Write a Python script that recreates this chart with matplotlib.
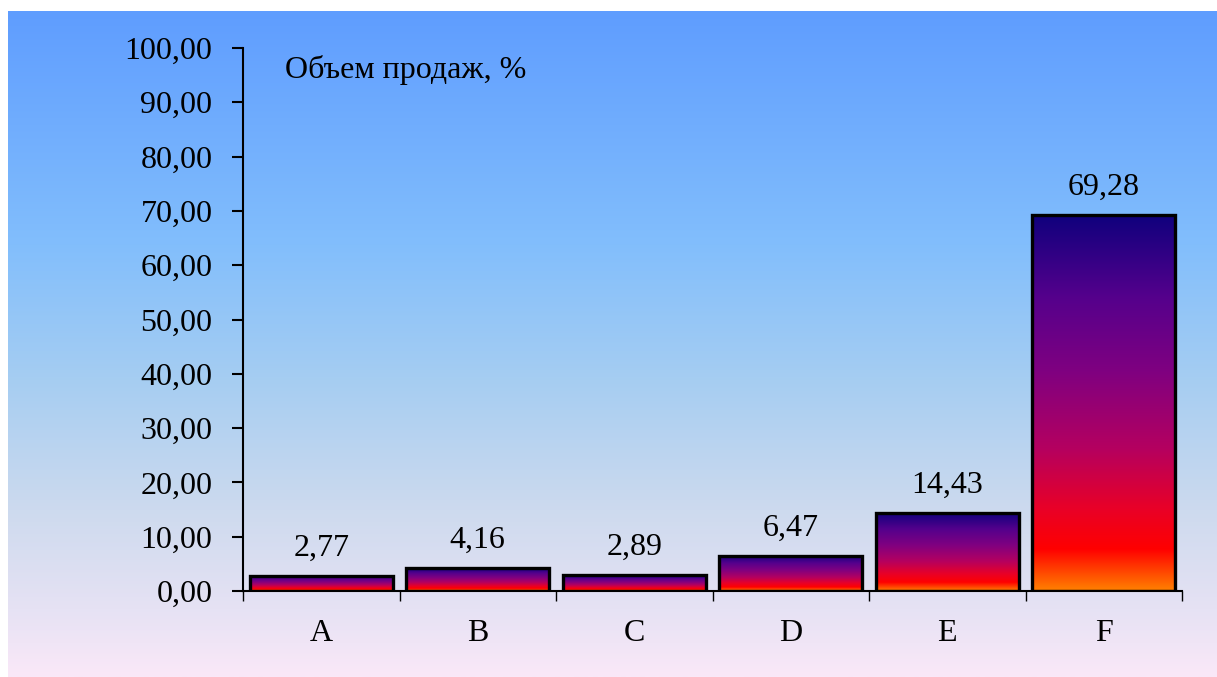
import numpy as np
import matplotlib
matplotlib.use("Agg")
from matplotlib import pyplot as plt
from matplotlib.colors import LinearSegmentedColormap
from matplotlib.patches import Rectangle

plt.rcParams['font.family'] = ['Liberation Serif', 'DejaVu Serif']

# Sales share by product group
categories = ["A", "B", "C", "D", "E", "F"]
sales = [2.77, 4.16, 2.89, 6.47, 14.43, 69.28]
y_ticks = [0, 10, 20, 30, 40, 50, 60, 70, 80, 90, 100]
title = "Объем продаж, %"

W, H = 1217, 677
fig = plt.figure(figsize=(W / 100, H / 100), dpi=100)
fig.patch.set_facecolor("white")

# panel background: blue at the top fading to pale pink
bg_cmap = LinearSegmentedColormap.from_list("bg", [
    (0.00, (95 / 255, 157 / 255, 255 / 255)),
    (0.35, (130 / 255, 190 / 255, 252 / 255)),
    (0.55, (165 / 255, 205 / 255, 242 / 255)),
    (0.75, (205 / 255, 218 / 255, 238 / 255)),
    (0.90, (230 / 255, 226 / 255, 244 / 255)),
    (1.00, (250 / 255, 232 / 255, 248 / 255)),
])
bg = fig.add_axes([8 / W, 0, 1 - 8 / W, 1 - 11 / H], zorder=0)
bg.imshow(np.linspace(0, 1, 256).reshape(-1, 1), cmap=bg_cmap,
          aspect="auto", extent=(0, 1, 0, 1))
bg.axis("off")

ax = fig.add_axes([243 / W, 1 - 591 / H, (1182 - 243) / W, (591 - 48) / H], zorder=1)
ax.patch.set_alpha(0)

# bar fill: orange at the base, through red and purple to navy at the top
bar_cmap = LinearSegmentedColormap.from_list("bars", [
    (0.00, (255 / 255, 128 / 255, 0)),
    (0.11, (255 / 255, 0, 0)),
    (0.22, (232 / 255, 0, 40 / 255)),
    (0.38, (180 / 255, 0, 96 / 255)),
    (0.58, (128 / 255, 0, 128 / 255)),
    (0.78, (85 / 255, 0, 140 / 255)),
    (1.00, (15 / 255, 0, 125 / 255)),
])
grad = np.linspace(1, 0, 256).reshape(-1, 1)
width = 0.914
x = np.arange(len(categories)) + 0.5
for xi, v in zip(x, sales):
    x0, x1 = xi - width / 2, xi + width / 2
    ax.imshow(grad, cmap=bar_cmap, aspect="auto", extent=(x0, x1, 0, v),
              zorder=2, interpolation="bilinear")
    ax.add_patch(Rectangle((x0, 0), width, v, facecolor="none",
                           edgecolor="black", linewidth=2.4, zorder=3))
    ax.annotate(f"{v:.2f}".replace(".", ","), (xi, v), xytext=(0, 14.5),
                textcoords="offset points", ha="center", va="baseline",
                fontsize=23)

ax.set_xlim(0, len(categories))
ax.set_ylim(0, 100)

for s in ("top", "right"):
    ax.spines[s].set_visible(False)
for s in ("left", "bottom"):
    ax.spines[s].set_linewidth(1.5)

ax.set_yticks(y_ticks)
ax.set_yticklabels([f"{t:.2f}".replace(".", ",") for t in y_ticks])
ax.tick_params(axis="y", direction="out", length=8, width=1.5, pad=14, labelsize=23)

ax.set_xticks(np.arange(len(categories) + 1))
ax.set_xticklabels([])
ax.tick_params(axis="x", which="major", direction="out", length=7.5, width=1)
ax.set_xticks(x, minor=True)
ax.set_xticklabels(categories, minor=True)
ax.tick_params(axis="x", which="minor", length=0, pad=20, labelsize=23)

ax.text(0.045, 0.96, title, transform=ax.transAxes, ha="left", va="center",
        fontsize=23)

fig.savefig("out.png", dpi=100)
